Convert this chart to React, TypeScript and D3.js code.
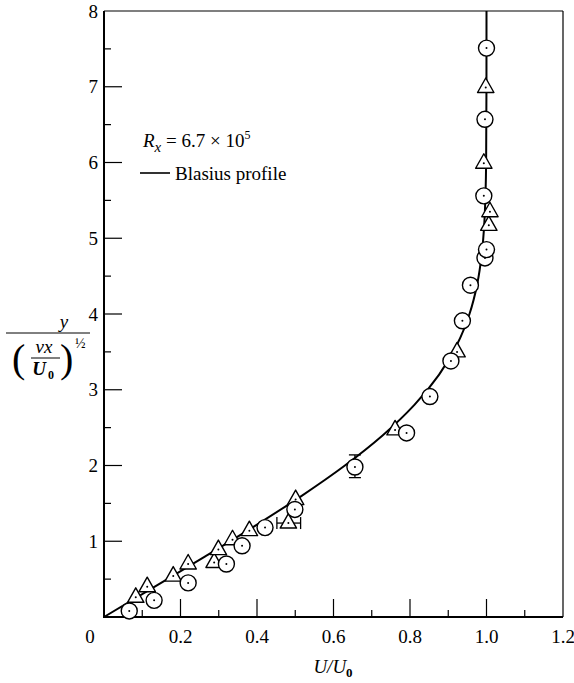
import React from "react";
import * as d3 from "d3";

// Blasius profile (eta vs U/U0)
const blasiusEta = [0, 0.4, 0.8, 1.2, 1.6, 2.0, 2.4, 2.8, 3.2, 3.6, 4.0, 4.4, 4.8, 5.2, 5.6, 6.0, 7.0, 8.0];
const blasiusU = [0, 0.1328, 0.2647, 0.3938, 0.5168, 0.6298, 0.729, 0.8115, 0.8761, 0.9233, 0.9555, 0.9759, 0.9878, 0.9943, 0.9975, 0.999, 0.9999, 1.0];

// measured points, circles
const circleU = [0.066, 0.131, 0.22, 0.32, 0.361, 0.421, 0.499, 0.656, 0.791, 0.852, 0.907, 0.937, 0.958, 0.996, 1.0, 0.993, 0.996, 1.0];
const circleEta = [0.08, 0.22, 0.45, 0.7, 0.94, 1.18, 1.42, 1.98, 2.43, 2.91, 3.38, 3.91, 4.38, 4.74, 4.85, 5.56, 6.57, 7.51];

// measured points, triangles
const triU = [0.083, 0.113, 0.181, 0.22, 0.288, 0.299, 0.336, 0.38, 0.482, 0.501, 0.761, 0.923, 1.006, 1.009, 0.993, 0.998];
const triEta = [0.26, 0.4, 0.54, 0.7, 0.72, 0.89, 1.02, 1.14, 1.24, 1.55, 2.47, 3.5, 5.17, 5.35, 5.99, 6.99];

// error bars
const vErr = { u: 0.656, lo: 1.84, hi: 2.14 };
const hErr = { eta: 1.24, lo: 0.452, hi: 0.514 };

const xMajor = [0.2, 0.4, 0.6, 0.8, 1.0];
const xMinor = [0.1, 0.3, 0.5, 0.7, 0.9, 1.1];
const xLabels = ["0.2", "0.4", "0.6", "0.8", "1.0", "1.2"];
const xLabelVals = [0.2, 0.4, 0.6, 0.8, 1.0, 1.2];
const yMajor = [1, 2, 3, 4, 5, 6, 7];
const yMinor = [0.5, 1.5, 2.5, 3.5, 4.5, 5.5, 6.5, 7.5];
const yLabelVals = [1, 2, 3, 4, 5, 6, 7, 8];

const FONT = '"Liberation Serif", "Times New Roman", "DejaVu Serif", serif';

export default function App() {
  const x = d3.scaleLinear().domain([0, 1.2]).range([104, 563]);
  const y = d3.scaleLinear().domain([0, 8]).range([617, 11]);

  const line = d3
    .line<number>()
    .x((_, i) => x(blasiusU[i]))
    .y((d) => y(d))
    .curve(d3.curveMonotoneY);

  const tri = "M0,-9.5 L8.2,5 L-8.2,5 Z";

  const labelY = y(4) + 18;

  return (
    <svg width={574} height={683} style={{ position: "absolute", left: 0, top: 0, background: "#fff", fontFamily: FONT }}>
      <g style={{ fontFamily: FONT }} fill="#000">
        {/* frame */}
        <line x1={x(0)} x2={x(1.2)} y1={y(8)} y2={y(8)} stroke="#000" strokeWidth={1.2} />
        <line x1={x(1.2)} x2={x(1.2)} y1={y(8)} y2={y(0)} stroke="#000" strokeWidth={1.2} />
        <line x1={x(0)} x2={x(0)} y1={y(8)} y2={y(0) + 1} stroke="#000" strokeWidth={2} />
        <line x1={x(0) - 1} x2={x(1.2)} y1={y(0)} y2={y(0)} stroke="#000" strokeWidth={2} />

        {/* ticks */}
        {xMajor.map((v) => (
          <line key={"xM" + v} x1={x(v)} x2={x(v)} y1={y(0)} y2={y(0) - 18} stroke="#000" strokeWidth={1.2} />
        ))}
        {xMinor.map((v) => (
          <line key={"xm" + v} x1={x(v)} x2={x(v)} y1={y(0)} y2={y(0) - 7} stroke="#000" strokeWidth={1.2} />
        ))}
        {yMajor.map((v) => (
          <line key={"yM" + v} x1={x(0)} x2={x(0) + 18} y1={y(v)} y2={y(v)} stroke="#000" strokeWidth={1.2} />
        ))}
        {yMinor.map((v) => (
          <line key={"ym" + v} x1={x(0)} x2={x(0) + 7} y1={y(v)} y2={y(v)} stroke="#000" strokeWidth={1.2} />
        ))}

        {/* tick labels */}
        <text x={90} y={643} fontSize={19} textAnchor="middle">0</text>
        {xLabelVals.map((v, i) => (
          <text key={"xl" + v} x={x(v)} y={643} fontSize={19} textAnchor="middle">{xLabels[i]}</text>
        ))}
        {yLabelVals.map((v) => (
          <text key={"yl" + v} x={98} y={y(v) + 6.5} fontSize={19} textAnchor="end">{v}</text>
        ))}

        {/* axis titles */}
        <text x={333} y={673} fontSize={19} textAnchor="middle" fontStyle="italic">
          U/U<tspan fontSize={13} dy={4} fontStyle="normal" fontWeight="bold">0</tspan>
        </text>

        <g>
          <text x={64} y={labelY - 4} fontSize={19} fontStyle="italic" textAnchor="middle">y</text>
          <line x1={6} x2={90} y1={labelY + 1} y2={labelY + 1} stroke="#000" strokeWidth={1} />
          <text x={12} y={labelY + 40} fontSize={40}>(</text>
          <text x={44} y={labelY + 21} fontSize={19} fontStyle="italic" textAnchor="middle">νx</text>
          <line x1={31} x2={60} y1={labelY + 26} y2={labelY + 26} stroke="#000" strokeWidth={1} />
          <text x={39} y={labelY + 43} fontSize={19} fontStyle="italic" fontWeight="bold" textAnchor="middle">U</text>
          <text x={48} y={labelY + 47} fontSize={12} fontWeight="bold">0</text>
          <text x={60} y={labelY + 40} fontSize={40}>)</text>
          <text x={75} y={labelY + 16} fontSize={14}>½</text>
        </g>

        {/* legend */}
        <text x={143} y={147} fontSize={19}>
          <tspan fontStyle="italic">R</tspan>
          <tspan fontStyle="italic" fontSize={15} dy={5}>x</tspan>
          <tspan dy={-5}> = 6.7 × 10</tspan>
          <tspan fontSize={12} dy={-8}>5</tspan>
        </text>
        <line x1={140} x2={170} y1={173} y2={173} stroke="#000" strokeWidth={1.6} />
        <text x={175} y={180} fontSize={19}>Blasius profile</text>

        {/* Blasius curve */}
        <path d={line(blasiusEta) || ""} fill="none" stroke="#000" strokeWidth={2} />

        {/* error bars */}
        <g stroke="#000" strokeWidth={1.3}>
          <line x1={x(vErr.u)} x2={x(vErr.u)} y1={y(vErr.lo)} y2={y(vErr.hi)} />
          <line x1={x(vErr.u) - 6} x2={x(vErr.u) + 6} y1={y(vErr.lo)} y2={y(vErr.lo)} />
          <line x1={x(vErr.u) - 6} x2={x(vErr.u) + 6} y1={y(vErr.hi)} y2={y(vErr.hi)} />
          <line x1={x(hErr.lo)} x2={x(hErr.hi)} y1={y(hErr.eta)} y2={y(hErr.eta)} />
          <line x1={x(hErr.lo)} x2={x(hErr.lo)} y1={y(hErr.eta) - 6} y2={y(hErr.eta) + 6} />
          <line x1={x(hErr.hi)} x2={x(hErr.hi)} y1={y(hErr.eta) - 6} y2={y(hErr.eta) + 6} />
        </g>

        {/* triangles */}
        {triU.map((u, i) => (
          <g key={"t" + i} transform={`translate(${x(u)},${y(triEta[i])})`}>
            <path d={tri} fill="#fff" stroke="#000" strokeWidth={1.4} strokeLinejoin="round" />
            <circle r={1} fill="#000" />
          </g>
        ))}

        {/* circles */}
        {circleU.map((u, i) => (
          <g key={"c" + i} transform={`translate(${x(u)},${y(circleEta[i])})`}>
            <circle r={8} fill="#fff" stroke="#000" strokeWidth={1.4} />
            <circle r={1} fill="#000" />
          </g>
        ))}
      </g>
    </svg>
  );
}
